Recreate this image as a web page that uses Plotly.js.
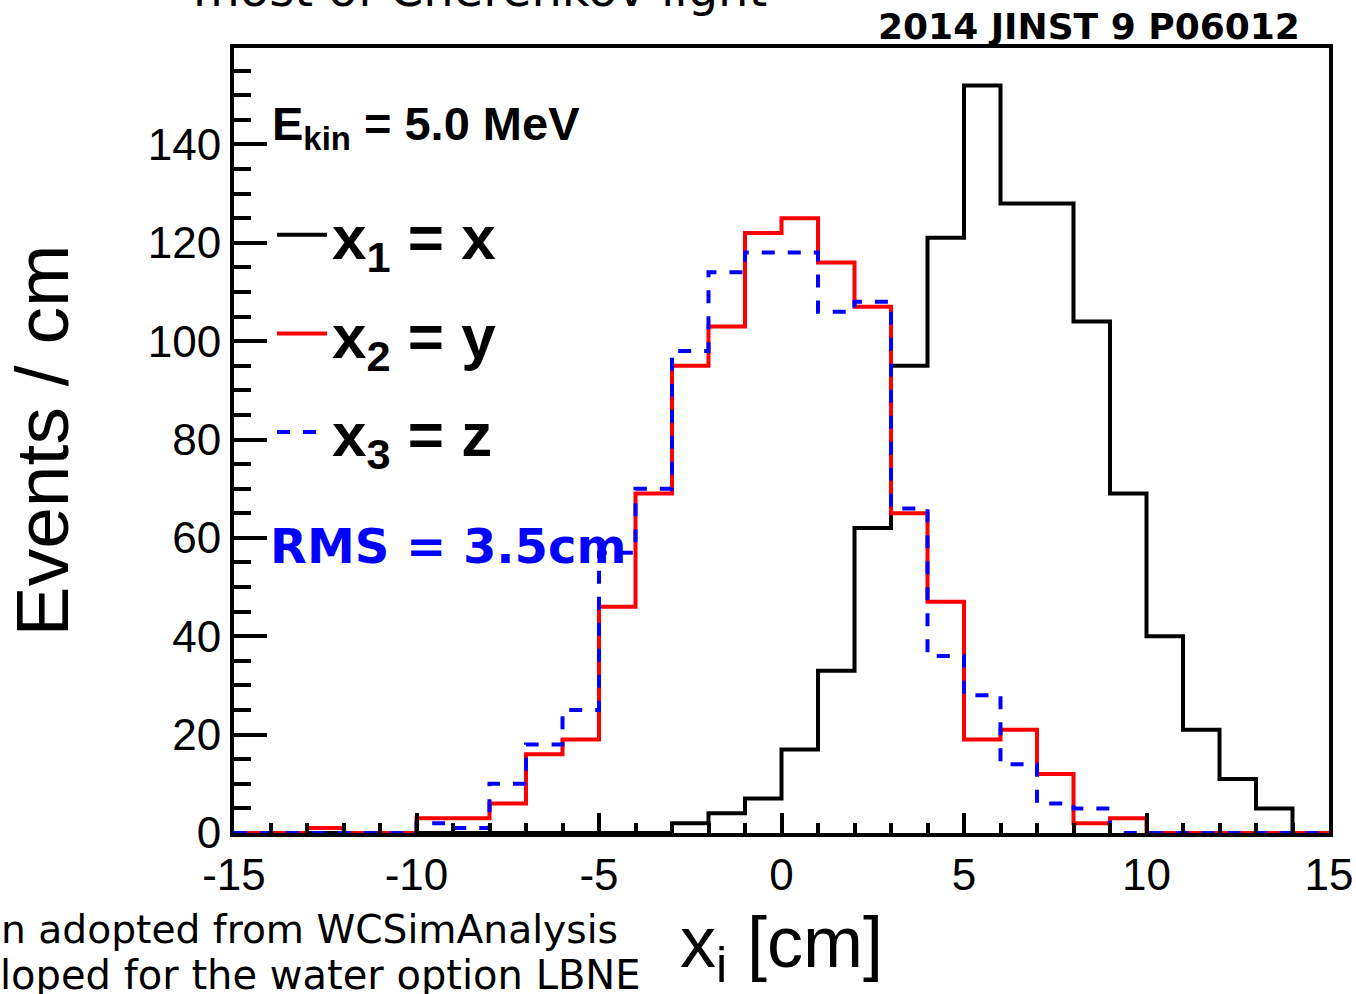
<!DOCTYPE html>
<html><head><meta charset="utf-8">
<script src="https://cdn.plot.ly/plotly-3.0.1.min.js"></script>
<style>html,body{margin:0;padding:0;background:#fff;} #chart{width:1356px;height:994px;}</style>
</head><body><div id="chart"></div>
<script>
// Bin low edges (1 cm bins) and the last upper edge
const binLowEdges = [-15,-14,-13,-12,-11,-10,-9,-8,-7,-6,-5,-4,-3,-2,-1,0,1,2,3,4,5,6,7,8,9,10,11,12,13,14];
const binUpperEdge = 15;
// Events per bin
const countsX1 = [0,0,0,0,0,0,0,0,0,0,0,0,2,4,7,17,33,62,95,121,152,128,128,104,69,40,21,11,5,0];
const countsX2 = [0,0,1,0,0,3,3,6,16,19,46,69,95,103,122,125,116,107,65,47,19,21,12,2,3,0,0,0,0,0];
const countsX3 = [0,0,0,0,0,2,1,10,18,25,57,70,98,114,118,118,106,108,66,36,28,14,6,5,0,0,0,0,0,0];
const seriesNames = ['x<sub>1</sub> = x','x<sub>2</sub> = y','x<sub>3</sub> = z'];
const xTickVals = [-15,-10,-5,0,5,10,15];
const xTickText = ['-15','-10','-5','0','5','10','15'];
const yTickVals = [0,20,40,60,80,100,120,140];

const edges = binLowEdges.concat([binUpperEdge]);
function stepY(c){ return c.concat([c[c.length-1]]); }

const W = 1356, H = 994;
const M = {l:234, r:27, t:48, b:161};
const PW = W - M.l - M.r, PH = H - M.t - M.b;
const px = v => (v - M.l) / PW;
const py = v => (H - M.b - v) / PH;

const traces = [
  {x: edges, y: stepY(countsX1), name: seriesNames[0], legendgroup:'g1', type:'scatter', mode:'lines',
   line:{shape:'hv', color:'#000000', width:4}},
  {x: edges, y: stepY(countsX2), name: seriesNames[1], legendgroup:'g2', type:'scatter', mode:'lines',
   line:{shape:'hv', color:'#ff0000', width:4}},
  {x: edges, y: stepY(countsX3), name: seriesNames[2], legendgroup:'g3', type:'scatter', mode:'lines',
   line:{shape:'hv', color:'#0000ff', width:4, dash:'13px,13px'}}
];

const tickFont = {family:'"Liberation Sans", Arial, sans-serif', size:44, color:'#000'};
const layout = {
  width: W, height: H,
  margin: M,
  paper_bgcolor:'#ffffff', plot_bgcolor:'#ffffff',
  showlegend: true,
  legend: {x: px(272), y: py(188), xanchor:'left', yanchor:'top', bgcolor:'rgba(0,0,0,0)', borderwidth:0,
           font:{family:'"Liberation Sans", Arial, sans-serif', size:62, color:'#000', weight:'bold'},
           itemwidth:50, tracegroupgap: 15, traceorder:'grouped'},
  xaxis: {range:[-15,15], tickvals:xTickVals, ticktext:xTickText, ticks:'inside', ticklen:20, tickwidth:4, tickcolor:'#000',
          showline:true, linewidth:4, linecolor:'#000', mirror:true, showgrid:false, zeroline:false,
          tickfont: tickFont, ticklabelstandoff: 0,
          minor:{dtick:1, ticks:'inside', ticklen:10, tickwidth:4, tickcolor:'#000', showgrid:false},
          title:{text:'x<sub>i</sub> [cm]', font:{family:'"Liberation Sans", Arial, sans-serif', size:72, color:'#000'}, standoff: 20}},
  yaxis: {range:[0,159.6], tickvals:yTickVals, ticks:'inside', ticklen:33, tickwidth:4, tickcolor:'#000',
          showline:true, linewidth:4, linecolor:'#000', mirror:true, showgrid:false, zeroline:false,
          tickfont: tickFont, ticklabelstandoff: 0,
          minor:{dtick:5, ticks:'inside', ticklen:17, tickwidth:4, tickcolor:'#000', showgrid:false},
          title:{text:'Events / cm', font:{family:'"Liberation Sans", Arial, sans-serif', size:75, color:'#000'}, standoff: 61}},
  annotations: [
    {xref:'paper', yref:'paper', x:px(270), y:py(95), xanchor:'left', yanchor:'top', showarrow:false,
     text:'<b>E<sub>kin</sub> = 5.0 MeV</b>', font:{family:'"Liberation Sans", Arial, sans-serif', size:47, color:'#000'}},
    {xref:'paper', yref:'paper', x:px(268), y:py(546), xanchor:'left', yanchor:'middle', showarrow:false,
     text:'<b>RMS = 3.5cm</b>', font:{family:'"DejaVu Sans", sans-serif', size:48, color:'#0000ff'}},
    {xref:'paper', yref:'paper', x:px(1302), y:py(26), xanchor:'right', yanchor:'middle', showarrow:false,
     text:'<b>2014 JINST 9 P06012</b>', font:{family:'"DejaVu Sans", sans-serif', size:36, color:'#000'}},
    {xref:'paper', yref:'paper', x:px(480), y:py(19), xanchor:'center', yanchor:'bottom', showarrow:false,
     text:'most of Cherenkov light', font:{family:'"DejaVu Sans", sans-serif', size:48, color:'#000'}},
    {xref:'paper', yref:'paper', x:px(620), y:py(929), xanchor:'right', yanchor:'middle', showarrow:false,
     text:'n adopted from WCSimAnalysis', font:{family:'"DejaVu Sans", sans-serif', size:39.2, color:'#000'}},
    {xref:'paper', yref:'paper', x:px(643), y:py(975), xanchor:'right', yanchor:'middle', showarrow:false,
     text:'loped for the water option LBNE', font:{family:'"DejaVu Sans", sans-serif', size:40, color:'#000'}}
  ]
};
Plotly.newPlot('chart', traces, layout, {displayModeBar:false, staticPlot:true});
</script>
</body></html>
